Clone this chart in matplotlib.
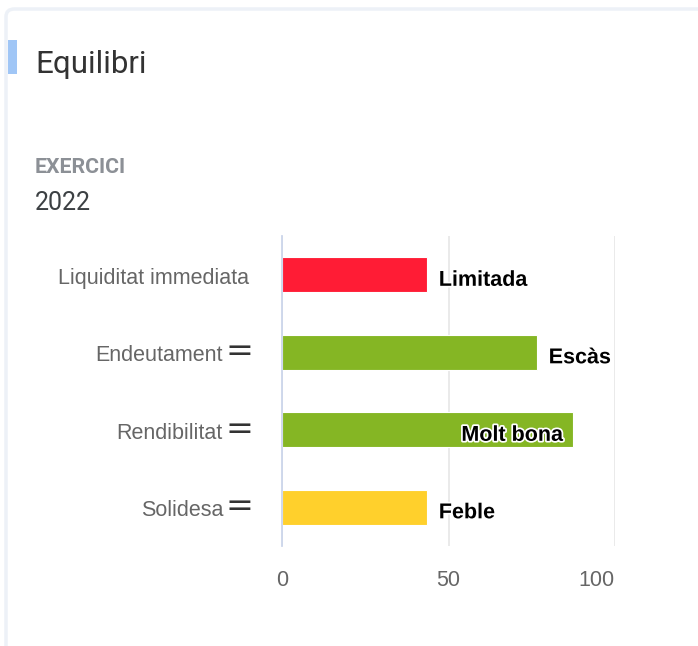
import matplotlib
matplotlib.use('Agg')
import matplotlib.pyplot as plt
from matplotlib import patheffects as pe
from matplotlib.patches import FancyBboxPatch, Rectangle
import numpy as np

categories = ["Liquiditat immediata", "Endeutament", "Rendibilitat", "Solidesa"]
values = [43.5, 76.5, 87.3, 43.5]
ratings = ["Limitada", "Escàs", "Molt bona", "Feble"]
bar_colors = ["#ff1c35", "#85b624", "#85b624", "#ffd02c"]
has_sort_icon = [False, True, True, True]
label_inside = [False, False, True, False]
x_ticks = [0, 50, 100]
title = "Equilibri"
period_label = "EXERCICI"
period = "2022"

W, H = 698, 646
fig = plt.figure(figsize=(W / 100, H / 100), dpi=100)
fig.patch.set_facecolor('white')


def fx(px):
    return px / W


def fy(py):
    return 1 - py / H


# card frame
card = FancyBboxPatch((fx(6), fy(700)), fx(760), fy(9) - fy(700),
                      boxstyle="round,pad=0,rounding_size=0.012",
                      transform=fig.transFigure, facecolor='white',
                      edgecolor='#edf1f7', linewidth=2.5, zorder=-5)
fig.patches.append(card)
# accent bar
fig.patches.append(Rectangle((fx(8), fy(74)), fx(9), fy(40) - fy(74),
                             transform=fig.transFigure, facecolor='#a0c6f6',
                             edgecolor='none', zorder=-4))

fig.text(fx(35), fy(73), title, fontsize=22.5, family='Roboto',
         color='#333333', va='baseline')
fig.text(fx(35), fy(173), period_label, fontsize=15.3, family='Roboto',
         fontweight='bold', color='#8c9096', va='baseline')
fig.text(fx(35), fy(210), period, fontsize=18, family='Roboto',
         color='#3c4043', va='baseline')

ax = fig.add_axes([fx(282), fy(546), fx(615) - fx(282), fy(236) - fy(546)])
ax.set_zorder(2)
ax.set_facecolor('none')
y = np.arange(len(categories))
ax.barh(y, values, height=0.45, color=bar_colors, edgecolor='white',
        linewidth=0.8, zorder=3)
ax.set_ylim(len(categories) - 0.5, -0.5)
ax.set_xlim(0, 100)
for s in ['top', 'right', 'bottom']:
    ax.spines[s].set_visible(False)
ax.spines['left'].set_color('#ccd6eb')
ax.spines['left'].set_linewidth(1.3)
ax.spines['left'].set_zorder(4)
ax.set_xticks(x_ticks)
ax.set_xticklabels([str(t) for t in x_ticks], family='Liberation Sans')
ax.grid(axis='x', color='#e6e6e6', linewidth=1.2, zorder=0)
ax.set_yticks(y)
ax.tick_params(axis='y', length=0, labelleft=False)
ax.tick_params(axis='x', length=0, labelsize=15.5, labelcolor='#666666', pad=17)
last = ax.get_xticklabels()[-1]
last.set_horizontalalignment('right')

for i, name in enumerate(categories):
    off = -42.5 if has_sort_icon[i] else -23.8
    ax.annotate(name, xy=(0, i), xycoords=('axes fraction', 'data'),
                xytext=(off, -2.5), textcoords='offset points', ha='right',
                va='center', fontsize=15.5, color='#666666',
                family='Liberation Sans')
    if has_sort_icon[i]:
        ax.annotate('=', xy=(0, i), xycoords=('axes fraction', 'data'),
                    xytext=(-20.5, 0.5), textcoords='offset points', ha='right',
                    va='center', fontsize=24, color='#333333',
                    family='DejaVu Sans')

for i, (v, r) in enumerate(zip(values, ratings)):
    if label_inside[i]:
        xt, ha = (-7, 0), 'right'
    else:
        xt, ha = (8.6, 0), 'left'
    ax.annotate(r, xy=(v, i), xytext=(xt[0], -4), textcoords='offset points',
                ha=ha, va='center', fontsize=15.5, fontweight='bold',
                family='Liberation Sans', color='black', zorder=5,
                path_effects=[pe.withStroke(linewidth=2.5, foreground='white')])

fig.savefig('out.png', dpi=100)
